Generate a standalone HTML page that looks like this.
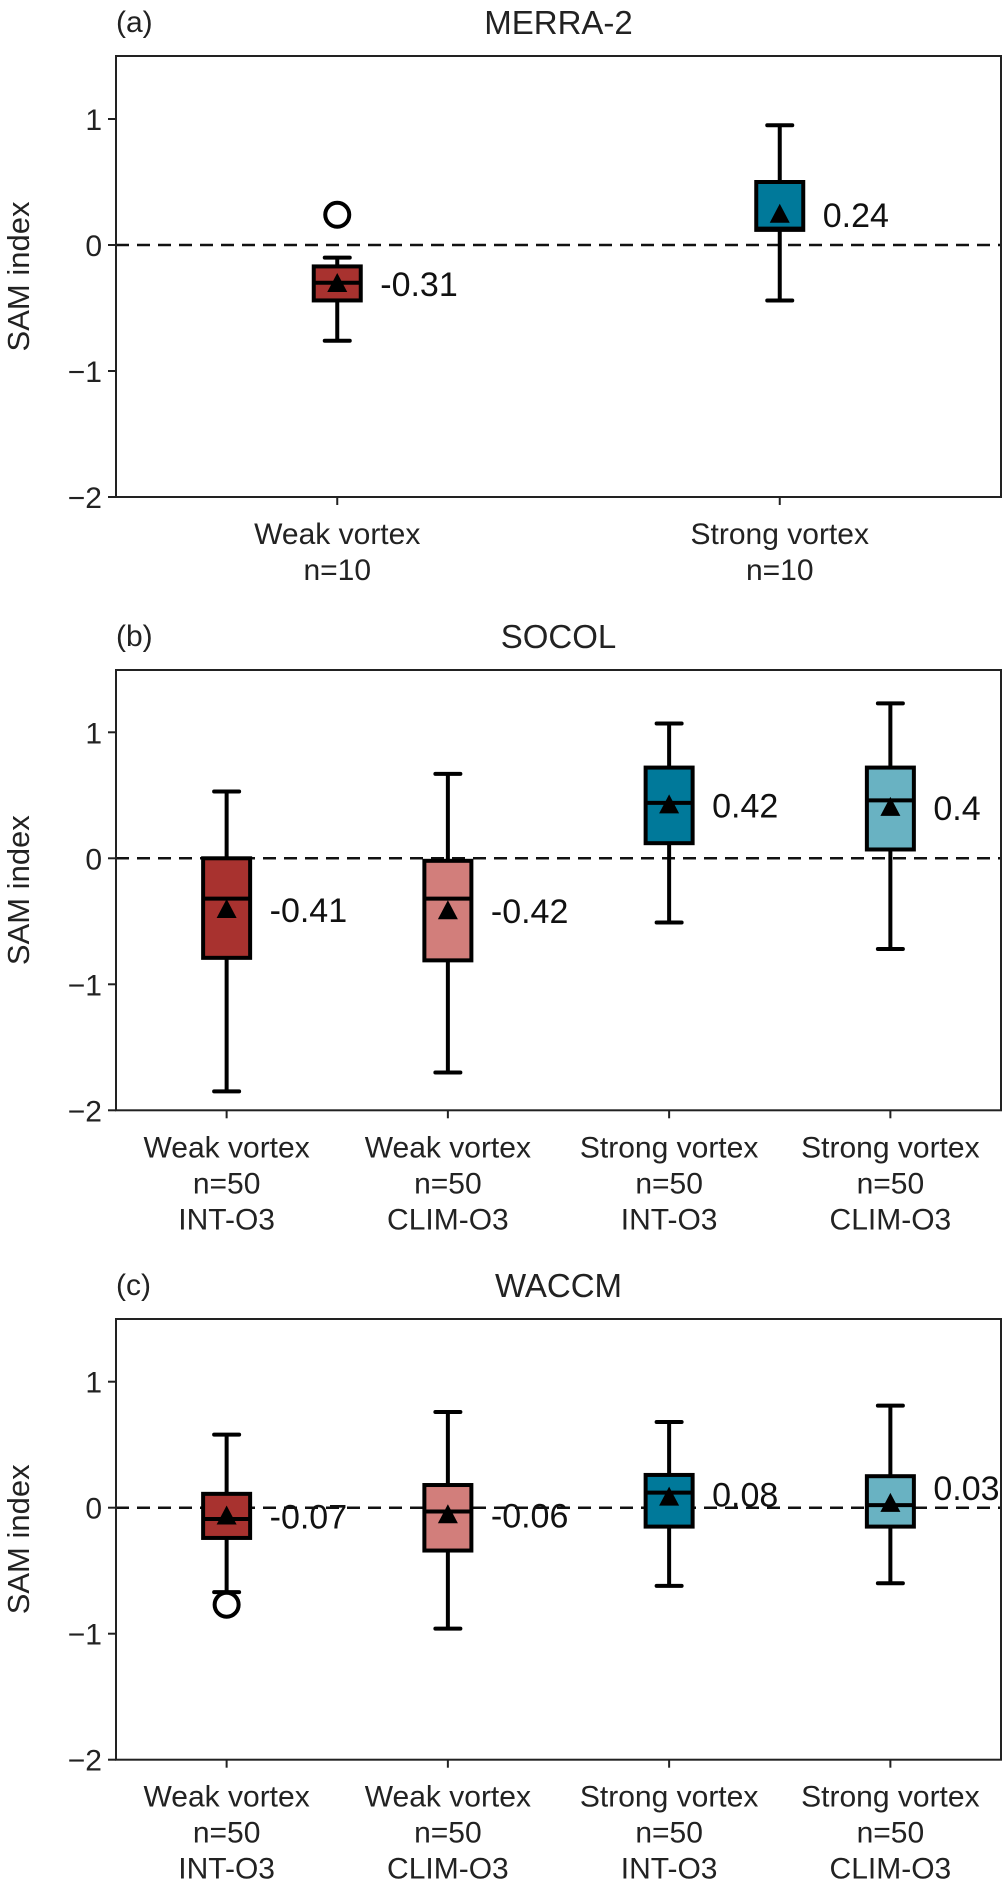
<!DOCTYPE html>
<html><head><meta charset="utf-8">
<style>
html,body{margin:0;padding:0;background:#fff;}
svg{display:block;font-family:"Liberation Sans",sans-serif;}
</style></head>
<body>
<svg id="fig" width="1004" height="1879" viewBox="0 0 1004 1879" xmlns="http://www.w3.org/2000/svg"></svg>
<script>
// ---- data ----
const panelTitles = ["MERRA-2", "SOCOL", "WACCM"];
const panelLetters = ["(a)", "(b)", "(c)"];
const catsA = [["Weak vortex","n=10"],["Strong vortex","n=10"]];
const catsBC = [["Weak vortex","n=50","INT-O3"],["Weak vortex","n=50","CLIM-O3"],["Strong vortex","n=50","INT-O3"],["Strong vortex","n=50","CLIM-O3"]];
const yTicks = [1, 0, -1, -2];
const yTickLabels = ["1", "0", "\u22121", "\u22122"];
// panel a
const aQ1 = [-0.44, 0.12], aQ3 = [-0.17, 0.50], aMed = [-0.30, 0.13], aMean = [-0.31, 0.24];
const aLo = [-0.76, -0.44], aHi = [-0.10, 0.95];
const aMeanLabels = ["-0.31", "0.24"];
const aOutliers = [[0.24], []];
// panel b
const bQ1 = [-0.79, -0.81, 0.12, 0.07], bQ3 = [0.00, -0.02, 0.72, 0.72];
const bMed = [-0.32, -0.32, 0.44, 0.46], bMean = [-0.41, -0.42, 0.42, 0.40];
const bLo = [-1.85, -1.70, -0.51, -0.72], bHi = [0.53, 0.67, 1.07, 1.23];
const bMeanLabels = ["-0.41", "-0.42", "0.42", "0.4"];
const bOutliers = [[], [], [], []];
// panel c
const cQ1 = [-0.24, -0.34, -0.15, -0.15], cQ3 = [0.11, 0.18, 0.26, 0.25];
const cMed = [-0.09, -0.03, 0.12, 0.02], cMean = [-0.07, -0.06, 0.08, 0.03];
const cLo = [-0.67, -0.96, -0.62, -0.60], cHi = [0.58, 0.76, 0.68, 0.81];
const cMeanLabels = ["-0.07", "-0.06", "0.08", "0.03"];
const cOutliers = [[-0.77], [], [], []];
const colorsA = ["#a8322f", "#00799a"];
const colorsBC = ["#a8322f", "#d27e7b", "#00799a", "#69b2c2"];
const cLabelDy = [0, 0, -3, -16];

const NS = "http://www.w3.org/2000/svg";
const svg = document.getElementById("fig");
function mk(tag, attrs, parent){
  const e = document.createElementNS(NS, tag);
  for (const k in attrs) e.setAttribute(k, attrs[k]);
  (parent || svg).appendChild(e);
  return e;
}
const L = 116, R = 1001;
const panels = [
  {top:56, zero:245, cats:catsA, q1:aQ1,q3:aQ3,med:aMed,mean:aMean,lo:aLo,hi:aHi,lab:aMeanLabels,out:aOutliers,col:colorsA,dy:[0,0]},
  {top:670, zero:858.3, cats:catsBC, q1:bQ1,q3:bQ3,med:bMed,mean:bMean,lo:bLo,hi:bHi,lab:bMeanLabels,out:bOutliers,col:colorsBC,dy:[0,0,0,0]},
  {top:1319, zero:1507.7, cats:catsBC, q1:cQ1,q3:cQ3,med:cMed,mean:cMean,lo:cLo,hi:cHi,lab:cMeanLabels,out:cOutliers,col:colorsBC,dy:cLabelDy}
];
const U = 126;
panels.forEach((p, pi) => {
  const g = mk("g", {});
  
  
  const y = v => p.zero - v * U;
  const n = p.cats.length;
  const x = i => L + (i + 0.5) * (R - L) / n;
  const bottom = y(-2);
  const lt = mk("text", {x:L, y:p.top - 24, "font-size":30, fill:"#222"}, g);
  lt.textContent = panelLetters[pi];
  
  
  const tt = mk("text", {x:(L+R)/2, y:p.top - 22, "font-size":33, fill:"#222", "text-anchor":"middle"}, g);
  tt.textContent = panelTitles[pi];
  
  
  const yl = mk("text", {x:0, y:0, "font-size":31, fill:"#222", "text-anchor":"middle", transform:`translate(29,${(p.top+bottom)/2}) rotate(-90)`}, g);
  yl.textContent = "SAM index";
  
  
  yTicks.forEach((t, ti) => {
    const tl = mk("line", {x1:L-8, x2:L, y1:y(t), y2:y(t), stroke:"#222", "stroke-width":2}, g);
    
    
    const tx = mk("text", {x:L-14, y:y(t)+11, "font-size":30, fill:"#222", "text-anchor":"end"}, g);
    tx.textContent = yTickLabels[ti];
    
    
  });
  const zl = mk("line", {x1:L, x2:R, y1:y(0), y2:y(0), stroke:"#111", "stroke-width":2.5, "stroke-dasharray":"13,8"}, g);
  
  
  const bw = 47, cw = 25;
  for (let i = 0; i < n; i++) {
    const cx = x(i);
    const bg = mk("g", {}, g);
    
    
    mk("line", {x1:cx, x2:cx, y1:y(p.hi[i]), y2:y(p.q3[i]), stroke:"#000", "stroke-width":4}, bg);
    mk("line", {x1:cx, x2:cx, y1:y(p.q1[i]), y2:y(p.lo[i]), stroke:"#000", "stroke-width":4}, bg);
    mk("line", {x1:cx-cw/2, x2:cx+cw/2, y1:y(p.hi[i]), y2:y(p.hi[i]), stroke:"#000", "stroke-width":4, "stroke-linecap":"round"}, bg);
    mk("line", {x1:cx-cw/2, x2:cx+cw/2, y1:y(p.lo[i]), y2:y(p.lo[i]), stroke:"#000", "stroke-width":4, "stroke-linecap":"round"}, bg);
    mk("rect", {x:cx-bw/2, y:y(p.q3[i]), width:bw, height:y(p.q1[i])-y(p.q3[i]), fill:p.col[i], stroke:"#000", "stroke-width":4}, bg);
    mk("line", {x1:cx-bw/2, x2:cx+bw/2, y1:y(p.med[i]), y2:y(p.med[i]), stroke:"#000", "stroke-width":4}, bg);
    const my = y(p.mean[i]);
    mk("polygon", {points:`${cx},${my-11} ${cx-10},${my+8} ${cx+10},${my+8}`, fill:"#000"}, bg);
    p.out[i].forEach(o => {
      const c = mk("circle", {cx:cx, cy:y(o), r:12, fill:"none", stroke:"#000", "stroke-width":4}, bg);
      
      
    });
    const ml = mk("text", {x:cx+43, y:my+12+p.dy[i], "font-size":34, fill:"#111"}, g);
    ml.textContent = p.lab[i];
    
    
    const xt = mk("line", {x1:cx, x2:cx, y1:bottom, y2:bottom+8, stroke:"#222", "stroke-width":2}, g);
    
    
    p.cats[i].forEach((line, li) => {
      const t = mk("text", {x:cx, y:bottom + 47 + li*36, "font-size":30, fill:"#222", "text-anchor":"middle"}, g);
      t.textContent = line;
      
      
    });
  }
  const fr = mk("rect", {x:L, y:p.top, width:R-L, height:bottom-p.top, fill:"none", stroke:"#222", "stroke-width":2}, g);
  
  
});
</script>
</body></html>
